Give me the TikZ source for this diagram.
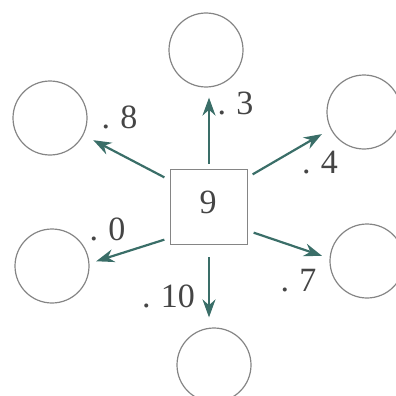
\documentclass[tikz,border=0pt]{standalone}
\usepackage{fontspec}
\setmainfont{Liberation Serif}
\usetikzlibrary{arrows.meta,calc}
\definecolor{ring}{HTML}{858585}
\definecolor{arr}{HTML}{3A6E68}
\definecolor{txt}{HTML}{454545}
\tikzset{
  ball/.style={circle, draw=ring, line width=1.2pt, minimum size=74pt, inner sep=0pt},
  box/.style={rectangle, draw=ring, line width=1.3pt, minimum width=77pt, minimum height=75pt, inner sep=0pt},
  link/.style={draw=arr, line width=2.2pt, -{Stealth[length=18pt,width=13pt]}},
  lab/.style={text=txt, font=\fontsize{34}{36}\selectfont, inner sep=0pt}
}
\newcommand{\dd}[1]{.\hspace{0.3em}#1}
\begin{document}
\begin{tikzpicture}[x=1pt,y=-1pt]
\useasboundingbox (0,0) rectangle (396,396);
\node[box] (sq) at (209,207) {};
\node[lab] (nine) at (208,202) {9};
\node[ball] (ct) at (206,50) {};
\node[ball] (cul) at (50,118) {};
\node[ball] (cur) at (364,112) {};
\node[ball] (cll) at (52,266) {};
\node[ball] (clr) at (367,261) {};
\node[ball] (cb) at (214,365) {};
\draw[link, shorten <=5pt, shorten >=10pt] (sq.north) -- (sq.north |- ct.south);
\draw[link, shorten <=12pt, shorten >=10pt] (sq.south) -- (sq.south |- cb.north);
\draw[link, shorten >=11pt] ($(sq.north west)+(-5.5,8.5)$) -- (cul.-27);
\draw[link, shorten >=10pt] ($(sq.north east)+(4.5,5.5)$) -- (cur.-153);
\draw[link, shorten >=7pt] ($(sq.south west)+(-5.5,-5.5)$) -- (cll.4);
\draw[link, shorten >=8pt] ($(sq.south east)+(5.5,-12.5)$) -- (clr.176);
\node[lab] (l3) at (235.5,103.5) {\dd{3}};
\node[lab] (l8) at (119.5,117.5) {\dd{8}};
\node[lab] (l4) at (320,162.5) {\dd{4}};
\node[lab] (l0) at (107.5,229) {\dd{0}};
\node[lab] (l10) at (168.5,296.5) {\dd{10}};
\node[lab] (l7) at (298.5,281) {\dd{7}};
\end{tikzpicture}
\end{document}
